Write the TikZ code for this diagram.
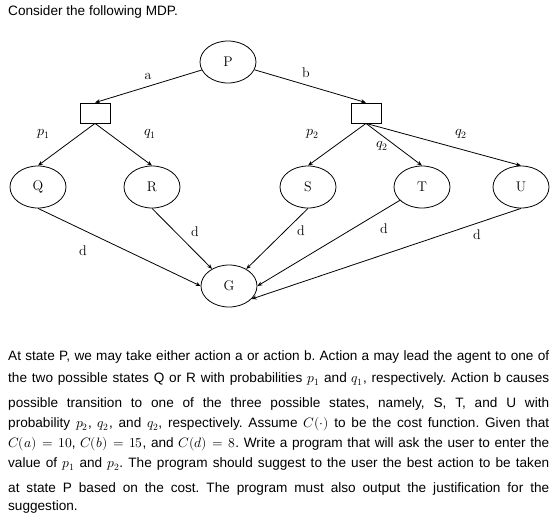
\documentclass[tikz,border=0pt]{standalone}
\usepackage{fontspec}
\usepackage{unicode-math}
\setmathfont{Latin Modern Math}
\newfontfamily\arialfont{Liberation Sans}
\usetikzlibrary{shapes.geometric,arrows.meta}
\tikzset{
  state/.style={draw,ellipse,line width=0.8pt,minimum width=56pt,minimum height=42pt,inner sep=0pt,font=\fontsize{14}{16}\selectfont},
  act/.style={draw,rectangle,line width=0.8pt,minimum width=30pt,minimum height=20pt,inner sep=0pt},
  arr/.style={line width=0.8pt,-{Stealth[length=5pt,width=4pt]}},
  lbl/.style={inner sep=0pt,font=\fontsize{14}{16}\selectfont},
  para/.style={anchor=base west,inner sep=0pt,font=\arialfont\fontsize{13.6}{16}\selectfont\frenchspacing}
}
\begin{document}
\begin{tikzpicture}[x=1pt,y=-1pt]
\useasboundingbox (0,0) rectangle (559,522);
\node[para] (title) at (8,16) {Consider the following MDP.};
% states
\node[state] (P) at (228,62) {P};
\node[act] (A) at (95,113) {};
\node[act] (B) at (366,113) {};
\node[state] (Q) at (38,187) {Q};
\node[state] (R) at (152,187) {R};
\node[state] (S) at (308,187) {S};
\node[state] (T) at (422,187) {T};
\node[state] (U) at (521,187) {U};
\node[state] (G) at (229,286) {G};
% edges
\draw[arr] (P) -- (A.north);
\draw[arr] (P) -- (B.north);
\draw[arr] (A.south) -- (Q.north);
\draw[arr] (A.south) -- (R.north);
\draw[arr] (B.south) -- (S.north);
\draw[arr] (B.south) -- (T.north);
\draw[arr] (B.south) -- (U.north);
\draw[arr] (Q.south) -- (G.west);
\draw[arr] (R.south) -- (G);
\draw[arr] (S.south) -- (G);
\draw[arr] (T) -- (G.east);
\draw[arr] (U.south) -- (G.-30);
% labels
\node[lbl] (la) at (148,76) {a};
\node[lbl] (lb) at (306,73) {b};
\node[lbl] (lp1) at (44,134) {$p_1$};
\node[lbl] (lq1) at (150,134) {$q_1$};
\node[lbl] (lp2) at (313,134) {$p_2$};
\node[lbl] (lq2a) at (382,146) {$q_2$};
\node[lbl] (lq2b) at (461,134) {$q_2$};
\node[lbl] (d1) at (83,251) {d};
\node[lbl] (d2) at (195,232) {d};
\node[lbl] (d3) at (301,231) {d};
\node[lbl] (d4) at (384,229) {d};
\node[lbl] (d5) at (477,235) {d};
% paragraph
\node[para] (l1) at (8,360) {\makebox[541pt][s]{At state P, we may take either action a or action b. Action a may lead the agent to one of}};
\node[para] (l2) at (8,382) {\makebox[541pt][s]{the two possible states Q or R with probabilities $p_1$ and $q_1$, respectively. Action b causes}};
\node[para] (l3) at (8,407) {\makebox[541pt][s]{possible transition to one of the three possible states, namely, S, T, and U with}};
\node[para] (l4) at (8,427) {\makebox[541pt][s]{probability $p_2$, $q_2$, and $q_2$, respectively. Assume $C(\cdot)$ to be the cost function. Given that}};
\node[para] (l5) at (8,447) {\makebox[541pt][s]{$C(a)=10$, $C(b)=15$, and $C(d)=8$. Write a program that will ask the user to enter the}};
\node[para] (l6) at (8,467) {\makebox[541pt][s]{value of $p_1$ and $p_2$. The program should suggest to the user the best action to be taken}};
\node[para] (l7) at (8,492) {\makebox[541pt][s]{at state P based on the cost. The program must also output the justification for the}};
\node[para] (l8) at (8,510) {suggestion.};
\end{tikzpicture}
\end{document}
